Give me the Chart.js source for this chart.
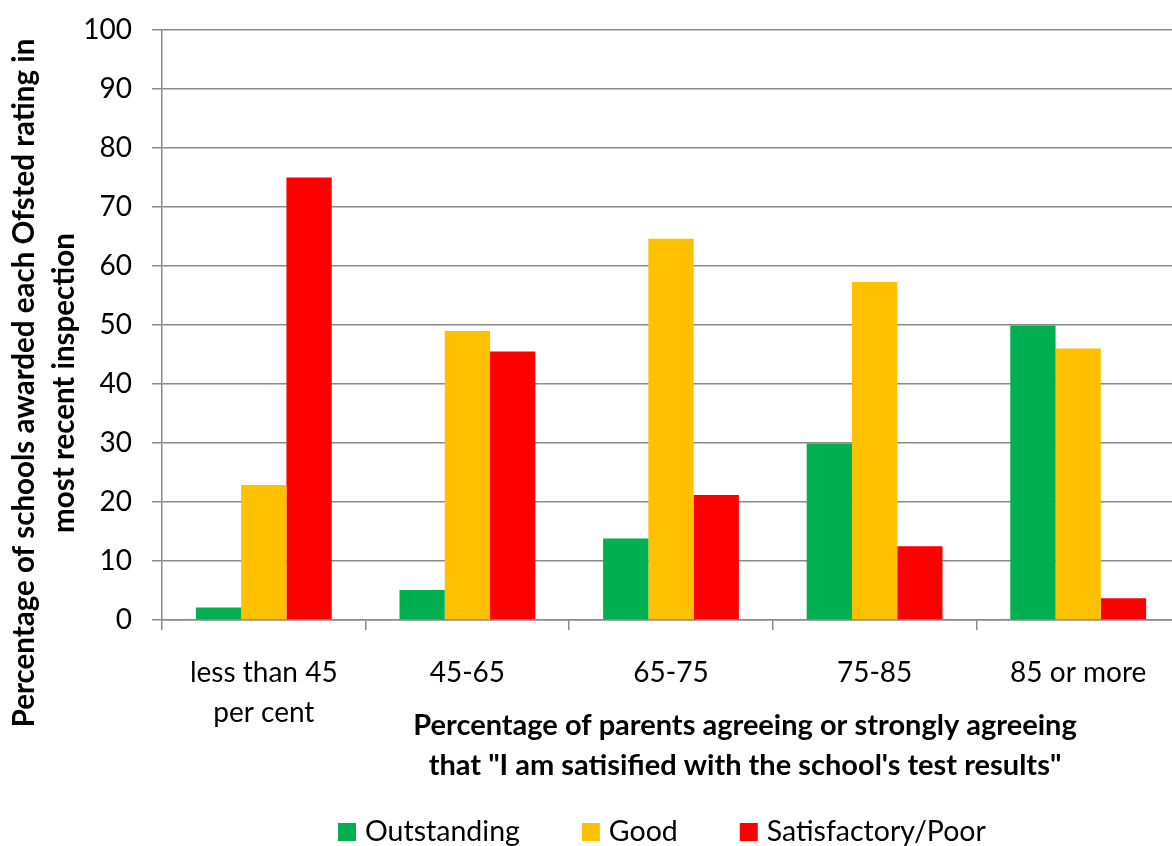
<!DOCTYPE html>
<html>
<head>
<meta charset="utf-8">
<script src="https://cdn.jsdelivr.net/npm/chart.js@4/dist/chart.umd.min.js"></script>
<style>
  html, body { margin: 0; padding: 0; background: #fff; overflow: hidden; }
  #wrap { width: 1190px; height: 846px; }
</style>
</head>
<body>
<div id="wrap"><canvas id="chart" width="1190" height="846"></canvas></div>
<script>
// Parent satisfaction bands (x-axis categories)
const categories = [['less than 45', 'per cent'], '45-65', '65-75', '75-85', '85 or more'];

// Percentage of schools in each band by Ofsted rating
const outstanding      = [2.1, 5.1, 13.8, 29.9, 49.9];
const good             = [22.9, 49.0, 64.6, 57.3, 46.0];
const satisfactoryPoor = [75.0, 45.5, 21.2, 12.5, 3.7];

const seriesNames  = ['Outstanding', 'Good', 'Satisfactory/Poor'];
const seriesColors = ['#00B050', '#FFC000', '#FF0000'];

// Value axis range and tick step
const yMin = 0, yMax = 100, yStep = 10;

const yTitleLines = ['Percentage of schools awarded each Ofsted rating in', 'most recent inspection'];
const xTitleLines = ['Percentage of parents agreeing or strongly agreeing',
                     'that "I am satisified with the school\'s test results"'];

const FONT = 'Lato, "Open Sans", sans-serif';
const GRID = '#8a8a8a';

// Axis titles and the legend, drawn after the chart
const decorations = {
  id: 'decorations',
  afterDraw(chart) {
    const ctx = chart.ctx;
    ctx.save();
    ctx.fillStyle = '#000';
    ctx.textBaseline = 'middle';

    // rotated value-axis title
    ctx.font = 'bold 29.5px ' + FONT;
    ctx.textAlign = 'center';
    ctx.save();
    ctx.translate(0, 383);
    ctx.rotate(-Math.PI / 2);
    ctx.fillText(yTitleLines[0], 0, 24);
    ctx.fillText(yTitleLines[1], 0, 64);
    ctx.restore();

    // category-axis title
    ctx.font = 'bold 29px ' + FONT;
    ctx.fillText(xTitleLines[0], 745, 726);
    ctx.fillText(xTitleLines[1], 745, 766);

    // legend row
    ctx.font = '28.5px ' + FONT;
    ctx.textAlign = 'left';
    const box = 18, gapText = 9, gapItem = 62, cy = 832;
    let x = 338;
    chart.data.datasets.forEach(ds => {
      ctx.fillStyle = ds.backgroundColor;
      ctx.fillRect(x, cy - box / 2, box, box);
      x += box + gapText;
      ctx.fillStyle = '#000';
      ctx.fillText(ds.label, x, cy);
      x += ctx.measureText(ds.label).width + gapItem;
    });
    ctx.restore();
  }
};

const seriesData = [outstanding, good, satisfactoryPoor];

new Chart(document.getElementById('chart'), {
  type: 'bar',
  data: {
    labels: categories,
    datasets: seriesData.map((d, i) => ({
      label: seriesNames[i],
      data: d,
      backgroundColor: seriesColors[i],
      borderWidth: 0,
      categoryPercentage: 0.667,
      barPercentage: 1.0
    }))
  },
  options: {
    responsive: false,
    animation: false,
    devicePixelRatio: 1,
    layout: { padding: { top: 30, right: 10, bottom: 0, left: 0 } },
    plugins: {
      legend: { display: false },
      tooltip: { enabled: false }
    },
    scales: {
      x: {
        ticks: {
          color: '#000',
          font: { family: FONT, size: 28, lineHeight: 1.42 },
          padding: 23,
          maxRotation: 0,
          autoSkip: false
        },
        grid: {
          drawOnChartArea: false,
          drawTicks: true,
          tickLength: 10,
          color: GRID,
          lineWidth: 1.5,
          offset: true
        },
        border: { color: GRID, width: 1.5 },
        afterFit(scale) { scale.height = 226; }
      },
      y: {
        min: yMin,
        max: yMax,
        ticks: {
          stepSize: yStep,
          color: '#000',
          font: { family: FONT, size: 28 },
          padding: 20
        },
        grid: {
          color: GRID,
          lineWidth: 1.5,
          tickLength: 10,
          drawTicks: true
        },
        border: { color: GRID, width: 1.5 },
        afterFit(scale) {
          scale.width = 162;
          scale.paddingTop = 0;
          scale.paddingBottom = 0;
        }
      }
    }
  },
  plugins: [decorations]
});
</script>
</body>
</html>
